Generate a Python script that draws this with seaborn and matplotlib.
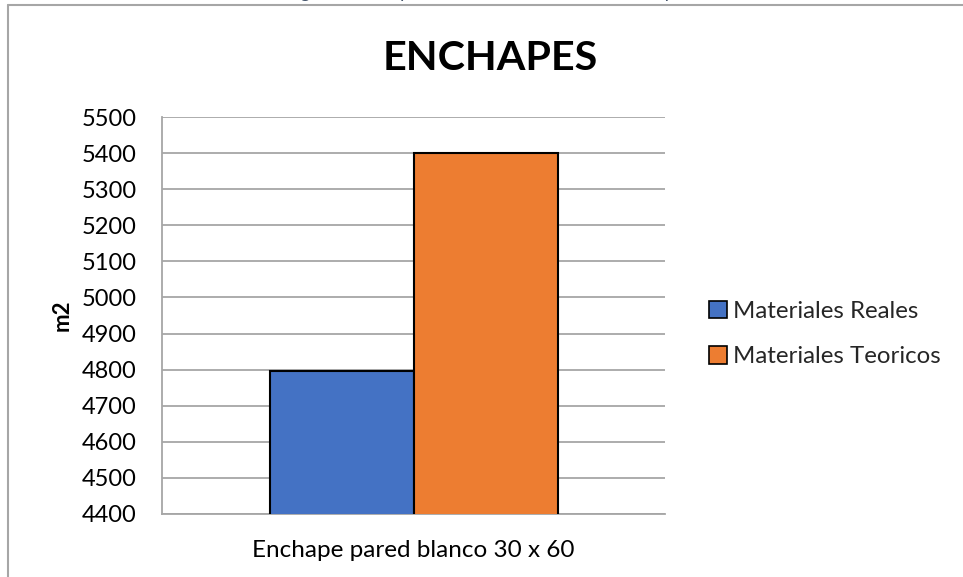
import matplotlib
matplotlib.use("Agg")
import matplotlib.pyplot as plt
from matplotlib.patches import Patch
from matplotlib.lines import Line2D
import seaborn as sns
import pandas as pd

# Data
categories = ["Enchape pared blanco 30 x 60"]
series = ["Materiales Reales", "Materiales Teoricos"]
reales = [4796]
teoricos = [5400]
yticks = list(range(4400, 5501, 100))

colors = ["#4472C4", "#ED7D31"]

df = pd.DataFrame({
    "categoria": categories * 2,
    "serie": [series[0]] * len(categories) + [series[1]] * len(categories),
    "valor": reales + teoricos,
})

sns.set_theme(style="white")
plt.rcParams["font.family"] = ["Lato", "DejaVu Sans"]

fig = plt.figure(figsize=(9.63, 5.77), dpi=100)
ax = fig.add_axes([162 / 963, 1 - 514 / 577, 503 / 963, 397 / 577])

sns.barplot(data=df, x="categoria", y="valor", hue="serie", palette=colors,
            saturation=1, width=288 / 503, edgecolor="black", linewidth=1.5,
            ax=ax, legend=False, zorder=3)

ax.set_xlim(-0.5, 0.5)
ax.set_ylim(4400, 5500)
ax.set_yticks(yticks)
ax.set_yticklabels([str(t) for t in yticks], fontsize=17, color="black")
ax.tick_params(axis="y", length=0, pad=18)
ax.tick_params(axis="x", length=0, pad=19, labelsize=17.5, labelcolor="black")
ax.yaxis.grid(True, color="#A6A6A6", linewidth=1.3, zorder=0)
ax.set_axisbelow(True)
ax.set_xlabel("")
ax.set_ylabel("")
for side in ["top", "right"]:
    ax.spines[side].set_visible(False)
for side in ["left", "bottom"]:
    ax.spines[side].set_color("#A6A6A6")
    ax.spines[side].set_linewidth(1.3)

# Chart title and value axis label
fig.text(490 / 963, 1 - 58 / 577, "ENCHAPES", ha="center", va="center",
         fontsize=29.7, fontweight="bold", color="black")
fig.text(62 / 963, 1 - 315 / 577, "m2", ha="center", va="center",
         rotation=90, fontsize=16, fontweight="bold", color="black")

# Caption above the chart frame
fig.text(490 / 963, 1 - 1 / 577, "Figura 9. Comparación de Materiales de Enchapes",
         ha="center", va="bottom", fontsize=14, style="italic", color="#44546A")

# Chart frame
fig.add_artist(Line2D([8 / 963, 1.0], [1 - 5 / 577, 1 - 5 / 577],
                      transform=fig.transFigure, color="#A6A6A6", linewidth=1.5))
fig.add_artist(Line2D([8 / 963, 8 / 963], [0.0, 1 - 5 / 577],
                      transform=fig.transFigure, color="#A6A6A6", linewidth=1.5))

handles = [Patch(facecolor=c, edgecolor="black", linewidth=1.2) for c in colors]
fig.legend(handles, series, loc="center left",
           bbox_to_anchor=(699 / 963, 1 - 334 / 577), frameon=False,
           fontsize=17.3, handlelength=0.75, handleheight=0.75,
           handletextpad=0.25, labelspacing=1.0, borderaxespad=0)

fig.savefig("out.png", dpi=100, facecolor="white")
